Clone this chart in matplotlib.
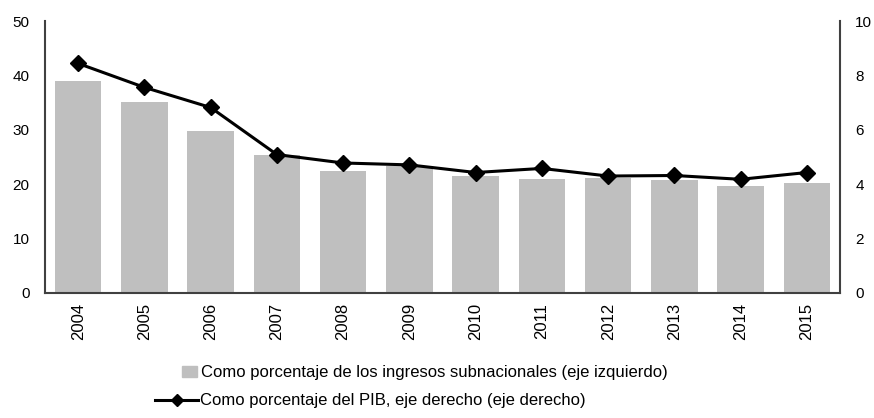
import matplotlib.pyplot as plt
import numpy as np
from matplotlib.patches import Patch
from matplotlib.lines import Line2D

plt.rcParams["font.family"] = ["Liberation Sans", "DejaVu Sans"]
plt.rcParams["font.size"] = 12

years = ["2004", "2005", "2006", "2007", "2008", "2009",
         "2010", "2011", "2012", "2013", "2014", "2015"]
pct_ingresos = [39.0, 35.2, 29.7, 25.4, 22.4, 23.4, 21.5, 20.9, 21.1, 20.7, 19.7, 20.2]
pct_pib = [8.44, 7.56, 6.82, 5.09, 4.78, 4.71, 4.43, 4.58, 4.30, 4.32, 4.18, 4.43]

label_bar = "Como porcentaje de los ingresos subnacionales (eje izquierdo)"
label_line = "Como porcentaje del PIB, eje derecho (eje derecho)"

BAR_COLOR = "#bfbfbf"
AXIS_COLOR = "#404040"

W, H = 874, 418
fig = plt.figure(figsize=(W / 100, H / 100), dpi=100)
ax = fig.add_axes([45 / W, 1 - 293 / H, (840 - 45) / W, (293 - 21) / H])
ax2 = ax.twinx()

x = np.arange(len(years))
ax.bar(x, pct_ingresos, width=0.70, color=BAR_COLOR, zorder=1)
ax2.plot(x, pct_pib, color="black", linewidth=2.2, marker="D", markersize=8.5, zorder=3)

ax.set_xlim(-0.5, len(years) - 0.5)
ax.set_ylim(0, 50)
ax2.set_ylim(0, 10)
ax.set_yticks(np.arange(0, 51, 10))
ax2.set_yticks(np.arange(0, 11, 2))
ax.set_xticks(x)
ax.set_xticklabels(years, rotation=90)

for a in (ax, ax2):
    a.tick_params(length=0, colors="black", labelsize=11)
    a.spines["top"].set_visible(False)
ax.spines["right"].set_visible(False)
ax2.spines["left"].set_visible(False)
ax2.spines["bottom"].set_visible(False)
for a, sides in ((ax, ("left", "bottom")), (ax2, ("right",))):
    for s in sides:
        a.spines[s].set_color(AXIS_COLOR)
        a.spines[s].set_linewidth(1.5)
ax.tick_params(axis="y", pad=11)
ax.tick_params(axis="x", pad=7, labelsize=12)
ax2.tick_params(axis="y", pad=11)

fig.legend(handles=[Patch(color=BAR_COLOR, label=label_bar)],
           loc="center left", bbox_to_anchor=(182 / W, 1 - 373 / H),
           frameon=False, borderpad=0, borderaxespad=0,
           handlelength=0.9, handleheight=0.6, handletextpad=0.25, fontsize=12)
fig.legend(handles=[Line2D([], [], color="black", linewidth=2.2, marker="D",
                           markersize=6.5, label=label_line)],
           loc="center left", bbox_to_anchor=(155 / W, 1 - 401 / H),
           frameon=False, borderpad=0, borderaxespad=0,
           handlelength=2.6, handletextpad=0.1, fontsize=12)

fig.savefig("out.png", dpi=100)
